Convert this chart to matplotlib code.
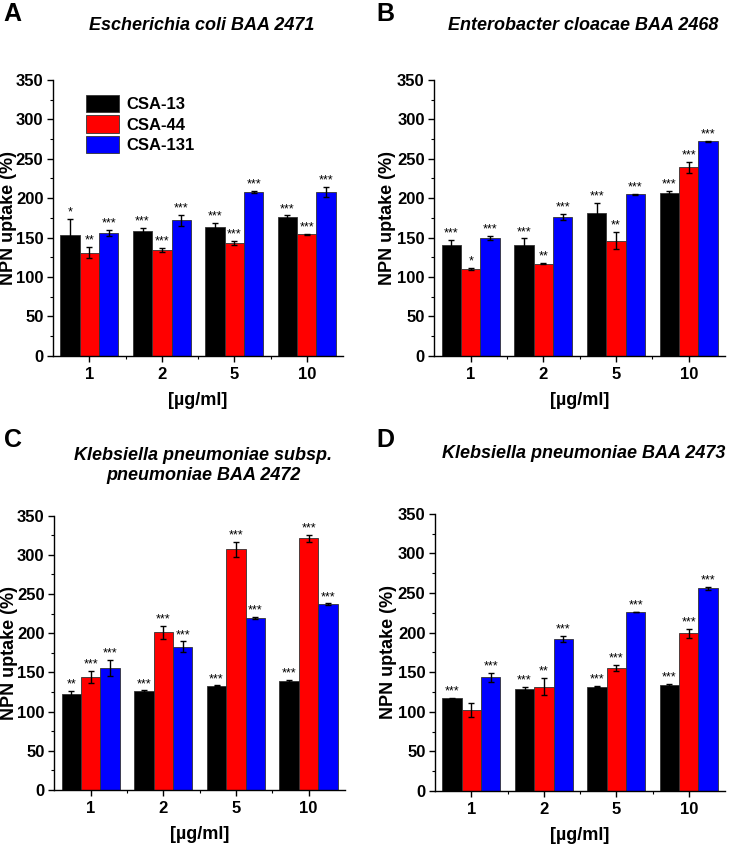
import numpy as np
import matplotlib.pyplot as plt
from matplotlib.ticker import MultipleLocator, FixedLocator

plt.rcParams['font.family'] = ['Liberation Sans', 'DejaVu Sans']
NARROW = ['Liberation Sans Narrow', 'Liberation Sans', 'DejaVu Sans']

# --- DATA ---
concentrations = ['1', '2', '5', '10']
compounds = ['CSA-13', 'CSA-44', 'CSA-131']
colors = ['#000000', '#FF0000', '#0000FF']

titles = ['Escherichia coli BAA 2471',
          'Enterobacter cloacae BAA 2468',
          'Klebsiella pneumoniae subsp.\npneumoniae BAA 2472',
          'Klebsiella pneumoniae BAA 2473']
letters = ['A', 'B', 'C', 'D']

# values per panel: [CSA-13, CSA-44, CSA-131] over concentrations
a_vals = [[153, 158, 164, 176], [131, 134, 143, 154], [156, 172, 208, 208]]
a_err = [[21, 4.5, 5, 2], [7, 2.5, 2.5, 1], [4, 7, 1.5, 6]]
a_sig = [['*', '***', '***', '***'], ['**', '***', '***', '***'], ['***', '***', '***', '***']]

b_vals = [[140, 141, 181, 207], [110, 117, 146, 239], [150, 176, 205, 272]]
b_err = [[7, 8, 12.5, 2], [1.5, 1.2, 11, 7], [2.5, 4, 0.5, 1]]
b_sig = [['***', '***', '***', '***'], ['*', '**', '**', '***'], ['***', '***', '***', '***']]

c_vals = [[122.5, 126, 133, 139], [144, 201, 307, 321], [155.5, 183, 219.5, 237]]
c_err = [[4, 1, 0.5, 1.3], [7.5, 8, 10, 5], [10, 6.5, 1, 1]]
c_sig = [['**', '***', '***', '***'], ['***', '***', '***', '***'], ['***', '***', '***', '***']]

d_vals = [[117, 128.5, 132, 134], [102.5, 132, 155, 199], [143.5, 192, 226, 256]]
d_err = [[1, 3.5, 1, 1.3], [8.5, 10.5, 4, 6], [6, 3.5, 0.5, 1.5]]
d_sig = [['***', '***', '***', '***'], ['', '**', '***', '***'], ['***', '***', '***', '***']]

panels = [(a_vals, a_err, a_sig), (b_vals, b_err, b_sig),
          (c_vals, c_err, c_sig), (d_vals, d_err, d_sig)]

# axes rectangles in figure fractions
rects = [[0.071, 0.5815, 0.387, 0.3244],
         [0.580, 0.5815, 0.388, 0.3244],
         [0.0725, 0.0706, 0.388, 0.3227],
         [0.581, 0.0694, 0.387, 0.326]]
title_ys = [0.970, 0.970, 0.452, 0.467]
letter_pos = [(0.005, 0.984), (0.502, 0.984), (0.005, 0.482), (0.502, 0.482)]
ylabel_x = [-0.126, -0.132, -0.126, -0.132]

fig = plt.figure(figsize=(7.49, 8.5), dpi=100)
x = np.arange(len(concentrations))
w = 0.267

for i, (vals, errs, sigs) in enumerate(panels):
    ax = fig.add_axes(rects[i])
    for j in range(3):
        pos = x + (j - 1) * w
        ax.bar(pos, vals[j], width=w, color=colors[j], edgecolor='#333333',
               linewidth=0.6, label=compounds[j], zorder=2)
        ax.errorbar(pos, vals[j], yerr=errs[j], fmt='none', ecolor='black',
                    elinewidth=1.0, capsize=2.5, capthick=1.0, zorder=3)
        for k in range(len(x)):
            if sigs[j][k]:
                ax.text(pos[k], vals[j][k] + errs[j][k] + 0.5, sigs[j][k],
                        ha='center', va='bottom', fontsize=9, zorder=4)

    ax.set_xlim(-0.5, 3.5)
    ax.set_ylim(0, 350)
    ax.set_xticks(x)
    ax.set_xticklabels(concentrations)
    ax.xaxis.set_minor_locator(FixedLocator([0.5, 1.5, 2.5]))
    ax.yaxis.set_major_locator(MultipleLocator(50))
    ax.yaxis.set_minor_locator(MultipleLocator(25))
    ax.tick_params(axis='both', which='major', direction='out', length=4,
                   width=1, labelsize=12, pad=3)
    ax.tick_params(axis='x', which='major', pad=4)
    ax.tick_params(axis='both', which='minor', direction='out', length=2.5, width=0.8)
    for lab in ax.get_xticklabels() + ax.get_yticklabels():
        lab.set_fontweight('bold')
        lab.set_family(NARROW)
    ax.spines['top'].set_visible(False)
    ax.spines['right'].set_visible(False)
    ax.spines['left'].set_linewidth(1)
    ax.spines['bottom'].set_linewidth(1)

    ax.set_ylabel('NPN uptake (%)', fontsize=13, fontweight='bold', family=NARROW)
    ax.yaxis.set_label_coords(ylabel_x[i], 0.5)
    ax.set_xlabel('[\u00b5g/ml]', fontsize=13, fontweight='bold', labelpad=7,
                  family=NARROW)

    bb = rects[i]
    fig.text(bb[0] + bb[2] / 2 + 0.005, title_ys[i], titles[i], ha='center', va='center',
             fontsize=13, fontweight='bold', fontstyle='italic', linespacing=1.2)
    fig.text(letter_pos[i][0], letter_pos[i][1], letters[i],
             ha='left', va='center', fontsize=18, fontweight='bold')

    if i == 0:
        ax.legend(loc='upper left', bbox_to_anchor=(0.09, 0.97), frameon=False,
                  prop={'weight': 'bold', 'size': 12, 'family': NARROW},
                  handlelength=2.0, handleheight=1.2, labelspacing=0.2,
                  handletextpad=0.4, borderaxespad=0)

fig.savefig('out.png', dpi=100)
